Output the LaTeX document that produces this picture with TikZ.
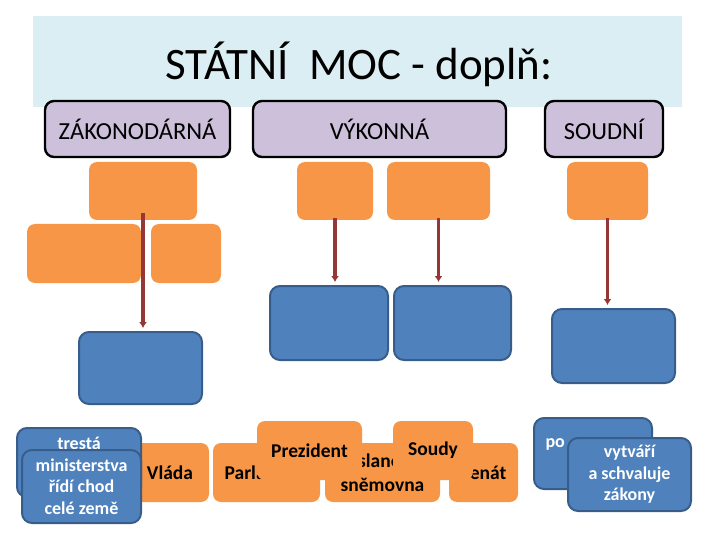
\documentclass[tikz,border=0pt]{standalone}
\usepackage{fontspec}
\setmainfont{Carlito}
\usetikzlibrary{arrows.meta}
\definecolor{TitleBg}{RGB}{219,238,244}
\definecolor{HdrLilac}{RGB}{204,192,218}
\definecolor{SlotOrange}{RGB}{247,150,70}
\definecolor{AnsBlue}{RGB}{79,129,189}
\definecolor{AnsEdge}{RGB}{56,93,138}
\definecolor{ArrRed}{RGB}{149,55,53}

\begin{document}
\begin{tikzpicture}[x=1pt,y=-1pt,>=Latex,
    hdr/.style={draw=black,line width=2.4pt,fill=HdrLilac,rounded corners=9pt,
      minimum height=56pt,font=\fontsize{24.5}{28}\selectfont},
    slot/.style={fill=SlotOrange,rounded corners=8pt,inner sep=0pt},
    ans/.style={draw=AnsEdge,line width=2pt,fill=AnsBlue,rounded corners=10pt,inner sep=0pt},
    card/.style={fill=SlotOrange,rounded corners=8pt,inner sep=2pt,align=center,
      font=\bfseries\fontsize{19.5}{24}\selectfont},
    btxt/.style={text=white,font=\bfseries\fontsize{18}{21.5}\selectfont},
    bcard/.style={ans,btxt,align=center},
    arr/.style={draw=ArrRed,line width=3.4pt,-{Latex[length=6pt,width=8pt]},shorten >=3pt}]
  \useasboundingbox (0,0) rectangle (720,540);
  % title band
  \fill[TitleBg] (33,16) rectangle (682,107);
  \node[anchor=base,font=\fontsize{45}{54}\selectfont] (title) at (359,80) {STÁTNÍ\ \ MOC - doplň:};
  % the three powers
  \node[hdr,minimum width=185pt] (hZak) at (137.5,129) {ZÁKONODÁRNÁ};
  \node[hdr,minimum width=253pt] (hVyk) at (379.5,129) {VÝKONNÁ};
  \node[hdr,minimum width=118pt] (hSoud) at (604,129) {SOUDNÍ};
  % empty orange slots
  \node[slot,minimum width=108pt,minimum height=58pt] (oZakT) at (143,191) {};
  \node[slot,minimum width=114pt,minimum height=59pt] (oZakL) at (84,253.5) {};
  \node[slot,minimum width=70pt,minimum height=59pt] (oZakR) at (186,253.5) {};
  \node[slot,minimum width=76pt,minimum height=58pt] (oVykL) at (335,191) {};
  \node[slot,minimum width=103pt,minimum height=58pt] (oVykR) at (438.5,191) {};
  \node[slot,minimum width=81pt,minimum height=58pt] (oSoud) at (607.5,191) {};
  % empty blue slots
  \node[ans,minimum width=123pt,minimum height=72pt] (bZak) at (140.5,368) {};
  \node[ans,minimum width=118pt,minimum height=74pt] (bVykL) at (329,323) {};
  \node[ans,minimum width=117pt,minimum height=74pt] (bVykR) at (452.5,323) {};
  \node[ans,minimum width=123pt,minimum height=74pt] (bSoud) at (613.5,346) {};
  % arrows
  \draw[arr] ([yshift=7pt]oZakT.south) -- (oZakT.south |- bZak.north);
  \foreach \o/\b in {oVykL/bVykL,oVykR/bVykR,oSoud/bSoud}
    \draw[arr] ([yshift=2pt]\o.south) -- (\o.south |- \b.north);
  % cards to place
  \node[card,minimum width=78pt,minimum height=59pt] (cVlada) at (170,472.5) {Vláda};
  \node[bcard,minimum width=124pt,minimum height=69pt,
    label={[btxt,anchor=base,yshift=-22pt]north:trestá}] (cTresta) at (79,462.5) {};
  \node[bcard,minimum width=119pt,minimum height=73pt] (cMinist) at (81.5,486.5)
    {ministerstva\\řídí chod\\celé země};
  \node[card,minimum width=107pt,minimum height=59pt] (cParl) at (266.5,472.5) {Parlament};
  \node[card,minimum width=115pt,minimum height=59pt] (cSnem) at (382.5,472.5) {Poslanecká\\sněmovna};
  \node[card,minimum width=69pt,minimum height=59pt] (cSenat) at (483.5,472.5) {Senát};
  \node[card,minimum width=105pt,minimum height=59pt] (cPrez) at (309.5,450.5) {Prezident};
  \node[card,minimum width=80pt,minimum height=59pt] (cSoudy) at (433,450.5) {Soudy};
  \node[bcard,minimum width=118pt,minimum height=71pt,
    label={[btxt,anchor=base west,xshift=9pt,yshift=-30pt]north west:po}] (cPo) at (593,453.5) {};
  \node[bcard,minimum width=123pt,minimum height=73pt] (cVytv) at (629.5,474.5)
    {vytváří\\a schvaluje\\zákony};
\end{tikzpicture}
\end{document}
